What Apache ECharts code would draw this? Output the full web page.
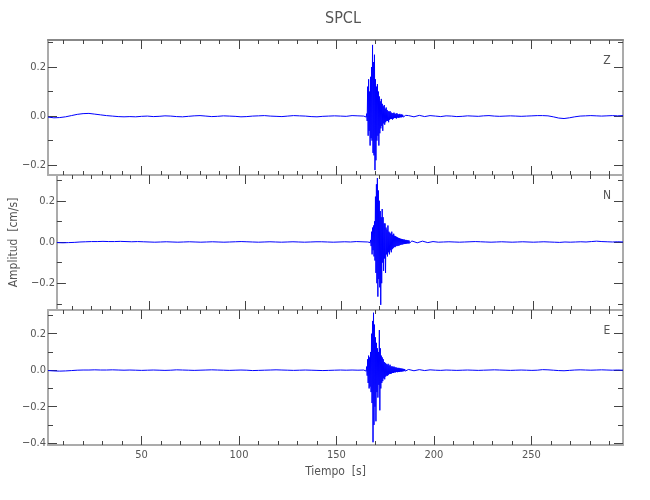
<!DOCTYPE html>
<html>
<head>
<meta charset="utf-8">
<script src="https://cdn.jsdelivr.net/npm/echarts@6/dist/echarts.min.js"></script>
<style>
html,body{margin:0;padding:0;background:#fff;}
#chart{width:650px;height:500px;}
</style>
</head>
<body>
<div id="chart"></div>
<script>
// ---- Station / components ----
const stationName = 'SPCL';
const componentNames = ['Z', 'N', 'E'];
const xAxisTitle = 'Tiempo  [s]';
const yAxisTitle = 'Amplitud  [cm/s]';

// ---- Time axis ----
const X_MIN = 2, X_MAX = 297;
const xMajorTicks = [50, 100, 150, 200, 250];
const xMinorTicks = [10, 20, 30, 40, 50, 60, 70, 80, 90, 100, 110, 120, 130, 140, 150, 160, 170, 180, 190, 200, 210, 220, 230, 240, 250, 260, 270, 280, 290];

// ---- Amplitude axes (per component) ----
const yMins = [-0.24, -0.33, -0.41];
const yMaxs = [0.31, 0.325, 0.33];
const yMajorTicks = [[-0.2, 0, 0.2], [-0.2, 0, 0.2], [-0.4, -0.2, 0, 0.2]];
const yMinorTicks = [[-0.1, 0.1, 0.3], [-0.3, -0.1, 0.1, 0.3], [-0.3, -0.1, 0.1, 0.3]];

// ---- Sample times (three segments: pre-event, event, post-event) ----
const preStart = 2, preStep = 3, preCount = 55;
const evStart = 164.5, evStep = 0.25, evCount = 87;
const postStart = 187, postStep = 2.75, postCount = 41;

// ---- Z component ----
const zPre = [-0.004,-0.007,-0.006,-0.003,0.002,0.007,0.010,0.011,0.008,0.005,
  0.002,0.000,-0.002,-0.003,-0.002,-0.003,-0.001,0.000,-0.002,-0.001,
  0.001,0.000,-0.002,-0.003,-0.001,0.001,0.002,0.000,-0.002,-0.001,
  0.001,0.000,-0.001,-0.003,-0.002,0.000,0.001,0.002,0.000,-0.001,
  -0.002,0.000,0.002,0.001,0.000,-0.002,-0.003,-0.001,0.000,0.001,
  0.000,-0.001,0.002,0.001,0.000];
const zEvent = [0.001,-0.002,
  0.003,-0.004,0.010,-0.020,
  0.120,-0.080,0.150,-0.060,
  0.100,-0.120,0.160,-0.090,
  0.200,-0.100,0.290,-0.150,
  0.220,-0.160,0.250,-0.220,
  0.150,-0.180,0.120,-0.100,
  0.130,-0.080,0.100,-0.120,
  0.080,-0.070,0.060,-0.050,
  0.070,-0.040,0.050,-0.060,
  0.040,-0.030,0.045,-0.035,
  0.030,-0.025,0.035,-0.020,
  0.025,-0.020,0.020,-0.025,
  0.018,-0.015,0.020,-0.012,
  0.015,-0.012,0.012,-0.014,
  0.012,-0.010,0.014,-0.008,
  0.010,-0.008,0.009,-0.010,
  0.012,-0.006,0.008,-0.007,
  0.007,-0.006,0.009,-0.005,
  0.006,-0.005,0.007,-0.004,
  0.005,-0.004,0.004,-0.003,
  0.004,-0.003,0.003,-0.002,
  0.001];
const zPost = [0.002,-0.003,0.003,-0.002,0.002,0.000,-0.002,0.001,0.000,-0.002,
  -0.001,0.001,0.000,-0.001,0.001,0.002,0.000,-0.001,0.000,0.001,
  0.000,-0.001,0.000,0.001,0.002,0.002,0.001,-0.003,-0.008,-0.010,
  -0.007,-0.003,0.000,0.001,0.002,0.001,0.000,0.001,0.002,0.001,0.002];

// ---- N component ----
const nPre = [-0.003,-0.004,-0.003,-0.002,0.000,0.001,0.002,0.002,0.003,0.002,
  0.002,0.003,0.002,0.001,0.002,0.001,0.000,-0.001,0.000,0.001,
  0.000,-0.001,0.000,0.001,0.000,-0.001,0.000,0.001,0.000,-0.001,
  0.000,0.001,0.002,0.001,0.000,-0.001,0.000,0.001,0.000,-0.001,
  0.000,0.001,0.000,-0.001,0.000,0.001,0.001,0.000,-0.001,0.000,
  0.001,0.000,0.002,0.001,0.000];
const nEvent = [0.001,-0.002,
  0.002,-0.003,0.010,-0.020,
  0.050,-0.060,0.070,-0.040,
  0.080,-0.070,0.100,-0.090,
  0.220,-0.150,0.280,-0.200,
  0.310,-0.265,0.250,-0.180,
  0.200,-0.220,0.150,-0.305,
  0.120,-0.200,0.160,-0.100,
  0.120,-0.140,0.090,-0.080,
  0.090,-0.150,0.070,-0.060,
  0.060,-0.070,0.080,-0.050,
  0.050,-0.060,0.045,-0.040,
  0.040,-0.050,0.050,-0.035,
  0.035,-0.030,0.040,-0.025,
  0.030,-0.025,0.028,-0.020,
  0.025,-0.020,0.022,-0.018,
  0.020,-0.018,0.018,-0.015,
  0.016,-0.014,0.015,-0.012,
  0.014,-0.012,0.012,-0.010,
  0.012,-0.010,0.010,-0.009,
  0.010,-0.008,0.009,-0.007,
  0.008,-0.007,0.007,-0.006,
  0.003];
const nPost = [0.005,-0.004,0.004,-0.003,0.002,-0.001,0.000,0.001,0.000,-0.001,
  0.000,0.001,0.002,0.001,0.000,-0.001,0.000,0.001,0.000,-0.001,
  0.000,0.001,0.000,-0.001,0.000,0.001,0.000,-0.001,-0.002,0.000,
  -0.001,0.000,0.001,0.000,0.002,0.004,0.002,0.001,0.000,0.001,0.000];

// ---- E component ----
const ePre = [-0.002,-0.004,-0.005,-0.004,-0.002,0.000,0.001,0.001,0.002,0.001,
  0.001,0.002,0.001,0.000,0.001,0.000,-0.001,0.000,0.001,0.000,
  -0.001,0.000,0.002,0.001,0.000,-0.001,0.000,0.001,0.002,0.001,
  0.000,-0.001,0.000,0.001,0.000,-0.002,-0.001,0.000,0.001,0.002,
  0.001,0.000,-0.001,0.000,0.001,0.000,-0.001,-0.002,-0.001,0.000,
  0.001,0.000,0.001,0.000,0.001];
const eEvent = [0.000,-0.002,
  0.003,-0.005,0.020,-0.030,
  0.060,-0.070,0.080,-0.100,
  0.070,-0.090,0.100,-0.120,
  0.200,-0.180,0.270,-0.395,
  0.315,-0.300,0.250,-0.200,
  0.180,-0.280,0.150,-0.120,
  0.120,-0.150,0.100,-0.080,
  0.220,-0.220,0.120,-0.100,
  0.080,-0.070,0.070,-0.060,
  0.060,-0.045,0.045,-0.050,
  0.040,-0.035,0.035,-0.030,
  0.030,-0.030,0.035,-0.025,
  0.025,-0.020,0.030,-0.020,
  0.020,-0.018,0.022,-0.015,
  0.018,-0.015,0.020,-0.012,
  0.016,-0.012,0.015,-0.010,
  0.014,-0.011,0.012,-0.010,
  0.013,-0.010,0.011,-0.008,
  0.010,-0.008,0.009,-0.007,
  0.008,-0.006,0.007,-0.005,
  0.006,-0.005,0.005,-0.004,
  0.002];
const ePost = [0.004,-0.003,0.003,-0.002,0.002,0.000,-0.001,0.001,0.000,-0.001,
  0.000,0.001,0.000,-0.001,0.000,0.001,0.002,0.001,0.000,-0.001,
  0.000,0.001,0.000,-0.001,0.000,0.003,0.002,0.000,-0.002,-0.003,
  -0.001,0.001,0.002,0.001,0.000,0.001,0.002,0.001,0.000,0.001,0.000];

// ---- build ----
function sampleTimes(start, step, n) {
  const a = [];
  for (let i = 0; i < n; i++) a.push(+(start + i * step).toFixed(3));
  return a;
}
const times = [].concat(
  sampleTimes(preStart, preStep, preCount),
  sampleTimes(evStart, evStep, evCount),
  sampleTimes(postStart, postStep, postCount)
);
const traces = [
  [].concat(zPre, zEvent, zPost),
  [].concat(nPre, nEvent, nPost),
  [].concat(ePre, eEvent, ePost)
];

const FONT = '"DejaVu Sans Condensed", "Liberation Sans", "Noto Sans", sans-serif';
const TXT = '#555';
const FRAME = '#ababab';
const TICK = '#444';
const gridTops = [40, 175, 310];
const gridH = 135;

const fmtY = v => (v < 0 ? '\u2212' : '') + Math.abs(v).toFixed(1);

const grids = [], xAxes = [], yAxes = [], series = [], graphics = [];

gridTops.forEach((top, i) => {
  grids.push({ left: 48, right: 27, top: top, height: gridH, containLabel: false });
  const base = { gridIndex: i, type: 'value', min: X_MIN, max: X_MAX, splitLine: { show: false } };
  const xFirst = xAxes.length;
  xAxes.push(Object.assign({}, base, {
    position: 'bottom',
    axisLine: { show: true, onZero: false, lineStyle: { color: FRAME, width: 2 } },
    axisTick: { show: true, inside: true, length: 4, customValues: xMinorTicks, lineStyle: { color: TICK } },
    axisLabel: { show: i === 2, customValues: xMajorTicks, margin: 5, color: TXT, fontFamily: FONT, fontSize: 11 },
    name: i === 2 ? xAxisTitle : '', nameLocation: 'middle', nameGap: 21,
    nameTextStyle: { color: TXT, fontFamily: FONT, fontSize: 12 }
  }));
  xAxes.push(Object.assign({}, base, {
    position: 'bottom',
    axisLine: { show: false, onZero: false },
    axisTick: { show: true, inside: true, length: 9, customValues: xMajorTicks, lineStyle: { color: TICK } },
    axisLabel: { show: false }
  }));
  xAxes.push(Object.assign({}, base, {
    position: 'top',
    axisLine: { show: true, onZero: false, lineStyle: { color: i === 0 ? '#888' : FRAME, width: 2 } },
    axisTick: { show: true, inside: true, length: 4, customValues: xMinorTicks, lineStyle: { color: TICK } },
    axisLabel: { show: false }
  }));
  xAxes.push(Object.assign({}, base, {
    position: 'top',
    axisLine: { show: false, onZero: false },
    axisTick: { show: true, inside: true, length: 9, customValues: xMajorTicks, lineStyle: { color: TICK } },
    axisLabel: { show: false }
  }));

  const ybase = { gridIndex: i, type: 'value', min: yMins[i], max: yMaxs[i], splitLine: { show: false } };
  const yFirst = yAxes.length;
  yAxes.push(Object.assign({}, ybase, {
    position: 'left',
    axisLine: { show: true, onZero: false, lineStyle: { color: FRAME, width: 2 } },
    axisTick: { show: true, inside: true, length: 5, customValues: yMinorTicks[i], lineStyle: { color: TICK } },
    axisLabel: { show: true, customValues: yMajorTicks[i], formatter: fmtY, margin: 2, color: TXT, fontFamily: FONT, fontSize: 11 },
    name: i === 1 ? yAxisTitle : '', nameLocation: 'middle', nameGap: 27, nameRotate: 90,
    nameTextStyle: { color: TXT, fontFamily: FONT, fontSize: 12 }
  }));
  yAxes.push(Object.assign({}, ybase, {
    position: 'left',
    axisLine: { show: false, onZero: false },
    axisTick: { show: true, inside: true, length: 9, customValues: yMajorTicks[i], lineStyle: { color: TICK } },
    axisLabel: { show: false }
  }));
  yAxes.push(Object.assign({}, ybase, {
    position: 'right',
    axisLine: { show: true, onZero: false, lineStyle: { color: FRAME, width: 2 } },
    axisTick: { show: true, inside: true, length: 5, customValues: yMinorTicks[i], lineStyle: { color: TICK } },
    axisLabel: { show: false }
  }));
  yAxes.push(Object.assign({}, ybase, {
    position: 'right',
    axisLine: { show: false, onZero: false },
    axisTick: { show: true, inside: true, length: 9, customValues: yMajorTicks[i], lineStyle: { color: TICK } },
    axisLabel: { show: false }
  }));

  series.push({
    type: 'line',
    name: componentNames[i],
    xAxisIndex: xFirst,
    yAxisIndex: yFirst,
    data: times.map((t, k) => [t, traces[i][k]]),
    showSymbol: false,
    symbol: 'none',
    lineStyle: { color: '#0000ff', width: 1 },
    itemStyle: { color: '#0000ff' },
    silent: true,
    animation: false,
    z: 1
  });

  graphics.push({
    type: 'text',
    x: 607,
    y: top + 21,
    style: { text: componentNames[i], fill: TXT, font: '12px ' + FONT, textAlign: 'center', textVerticalAlign: 'middle' }
  });
});

const chart = echarts.init(document.getElementById('chart'), null, { renderer: 'canvas' });
chart.setOption({
  backgroundColor: '#ffffff',
  animation: false,
  title: {
    text: stationName,
    left: 320,
    top: 6,
    textStyle: { color: TXT, fontFamily: FONT, fontSize: 16, fontWeight: 'normal' }
  },
  grid: grids,
  xAxis: xAxes,
  yAxis: yAxes,
  series: series,
  graphic: graphics
});
</script>
</body>
</html>
